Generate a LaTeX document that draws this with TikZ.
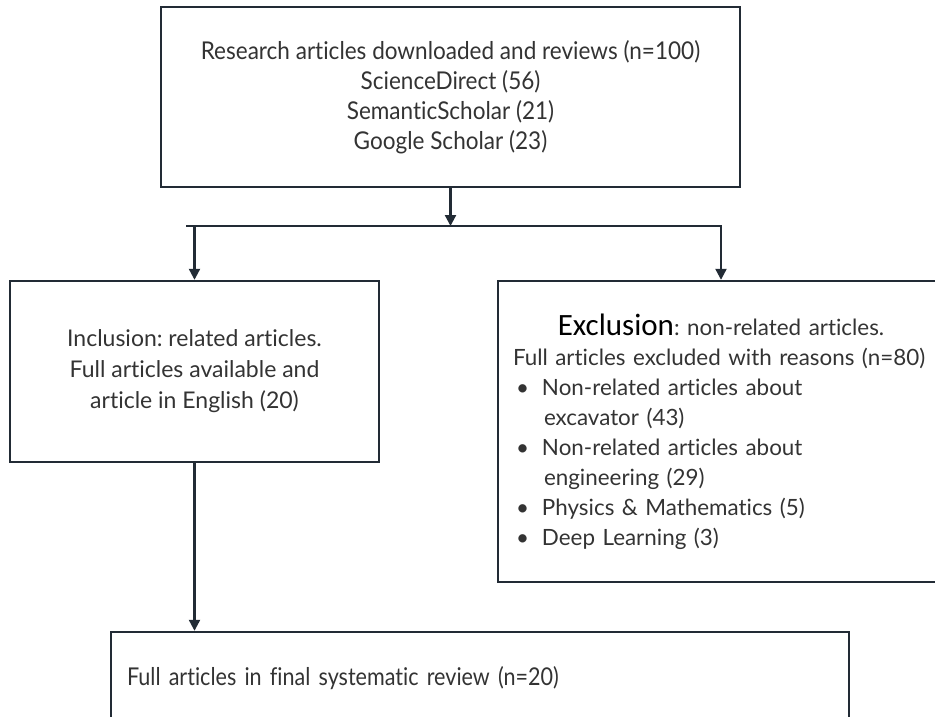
\documentclass[tikz,border=0pt]{standalone}
\usepackage{fontspec}
\setmainfont{Lato}[Ligatures=CommonOff]
\newfontfamily\narrowfont[FakeStretch=0.92,Ligatures=CommonOff]{Lato}
\newfontfamily\bnarrowfont[FakeStretch=0.88,Ligatures=CommonOff]{Lato}
\newfontfamily\calfont{Carlito}
\usetikzlibrary{arrows.meta}
\definecolor{linec}{HTML}{222B35}
\definecolor{txtc}{HTML}{333333}
\begin{document}
\begin{tikzpicture}[x=1pt,y=-1pt,
  box/.style={draw=linec, line width=2.4pt, rectangle, inner sep=0pt, text=txtc},
  conn/.style={draw=linec, line width=2.2pt},
  arr/.style={conn, -{Triangle[width=11pt,length=11pt]}}]
\frenchspacing
\useasboundingbox (0,0) rectangle (935,716);
\node[box, minimum width=579pt, minimum height=180pt, align=center,
  font=\narrowfont\fontsize{24.5}{30}\selectfont] (top) at (450.5,97)
  {Research articles downloaded and reviews (n=100)\\ScienceDirect (56)\\SemanticScholar (21)\\Google Scholar (23)};
\node[box, minimum width=369pt, minimum height=181pt, align=center,
  font=\fontsize{23}{31}\selectfont] (left) at (194.5,371.5)
  {Inclusion: related articles.\\Full articles available and\\article in English (20)};
\node[box, minimum width=446pt, minimum height=301pt, text width=416pt, align=left,
  font=\fontsize{22.4}{30}\selectfont] (right) at (721,431.5)
  {\centerline{{\calfont\color{black}\fontsize{31}{30}\selectfont Exclusion}: non-related articles.}
   Full articles excluded with reasons (n=80)\\
   \hspace*{3pt}\makebox[26pt][l]{•}Non-related articles about\\
   \hspace*{31pt}excavator (43)\\
   \hspace*{3pt}\makebox[26pt][l]{•}Non-related articles about\\
   \hspace*{31pt}engineering (29)\\
   \hspace*{3pt}\makebox[26pt][l]{•}Physics \& Mathematics (5)\\
   \hspace*{3pt}\makebox[26pt][l]{•}Deep Learning (3)};
\node[box, minimum width=738pt, minimum height=92pt, text width=706pt, align=left,
  font=\bnarrowfont\fontsize{24.5}{30}\selectfont] (bot) at (480,678)
  {Full articles in final systematic review (n=20)};
\coordinate (jc) at (450.5,226);
\coordinate (jl) at (186,226);
\coordinate (jr) at (722,226);
\draw[arr] (top.south) -- (jc);
\draw[conn] (jl) -- (jr);
\draw[arr] (left.north |- jc) -- (left.north);
\draw[arr] (right.north |- jr) -- (right.north);
\draw[arr] (left.south) -- (left.south |- bot.north);
\end{tikzpicture}
\end{document}
